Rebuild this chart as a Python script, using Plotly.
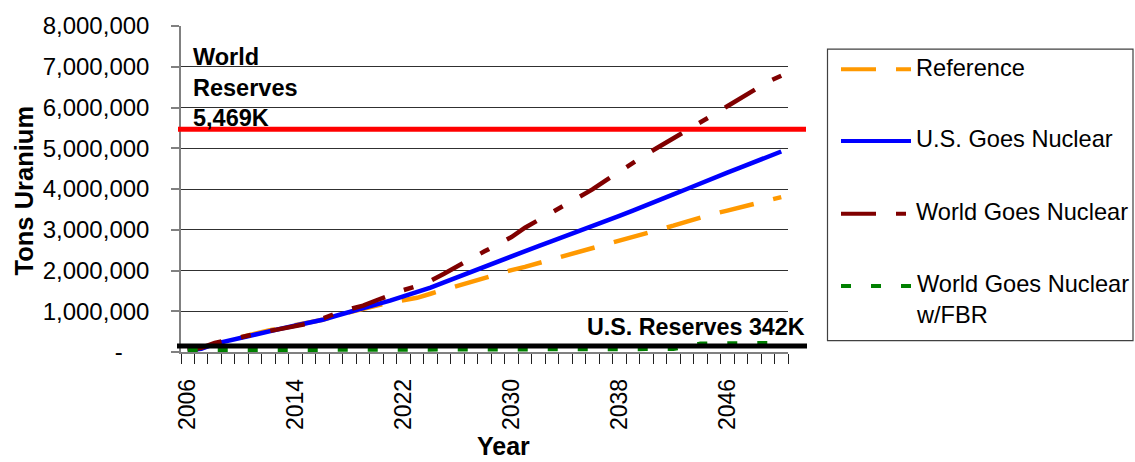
import plotly.graph_objects as go

# ---------------- data ----------------
years = list(range(2006, 2051))

reference = [40000, 90000, 200000, 290000, 370000, 450000, 530000, 600000, 660000, 720000,
             790000, 890000, 980000, 1060000, 1140000, 1210000, 1260000, 1330000, 1430000, 1530000,
             1620000, 1710000, 1810000, 1910000, 2010000, 2090000, 2180000, 2270000, 2370000, 2470000,
             2560000, 2650000, 2730000, 2810000, 2900000, 3000000, 3100000, 3200000, 3300000, 3390000,
             3470000, 3550000, 3630000, 3710000, 3800000]

us_goes_nuclear = [40000, 80000, 200000, 280000, 350000, 430000, 510000, 580000, 650000, 720000,
                   790000, 890000, 990000, 1080000, 1170000, 1260000, 1360000, 1470000, 1580000, 1710000,
                   1840000, 1970000, 2100000, 2230000, 2360000, 2480000, 2600000, 2720000, 2840000, 2960000,
                   3080000, 3210000, 3340000, 3470000, 3610000, 3740000, 3870000, 4000000, 4140000, 4270000,
                   4400000, 4530000, 4660000, 4790000, 4920000]

world_goes_nuclear = [40000, 100000, 220000, 300000, 370000, 440000, 510000, 580000, 630000, 700000,
                      820000, 950000, 1050000, 1140000, 1270000, 1400000, 1520000, 1620000, 1750000, 1920000,
                      2090000, 2290000, 2470000, 2640000, 2820000, 3050000, 3240000, 3430000, 3610000, 3790000,
                      3990000, 4210000, 4430000, 4650000, 4850000, 5050000, 5240000, 5420000, 5620000, 5830000,
                      6030000, 6240000, 6440000, 6630000, 6780000]

world_goes_nuclear_fbr = [50000, 50000, 52000, 52000, 53000, 54000, 55000, 55000, 56000, 57000,
                          58000, 58000, 59000, 60000, 60000, 61000, 62000, 62000, 63000, 64000,
                          65000, 65000, 66000, 67000, 68000, 69000, 70000, 70000, 71000, 72000,
                          73000, 74000, 75000, 76000, 77000, 78000, 80000, 140000, 200000, 205000,
                          208000, 211000, 214000, 217000, 220000]

series_names = ["Reference", "U.S. Goes Nuclear", "World Goes Nuclear", "World Goes Nuclear<br>w/FBR"]

world_reserves_level = 5469000
us_reserves_level = 145000
world_reserves_label = "World<br>Reserves<br>5,469K"
us_reserves_label = "U.S. Reserves 342K"

y_tick_values = [0, 1000000, 2000000, 3000000, 4000000, 5000000, 6000000, 7000000, 8000000]
y_tick_labels = ["-\u00a0\u00a0\u00a0\u00a0", "1,000,000", "2,000,000", "3,000,000", "4,000,000",
                 "5,000,000", "6,000,000", "7,000,000", "8,000,000"]
x_tick_years = [2006, 2014, 2022, 2030, 2038, 2046]

x_title = "Year"
y_title = "Tons Uranium"

# ---------------- styles ----------------
FONT = "Arial, 'Liberation Sans', sans-serif"
colors = ["#FF9900", "#0000FF", "#800000", "#008000"]
dashes = ["35px,20px", "solid", "35px,20px,10px,20px", "10px,20px"]

W, H = 1135, 462
L, R, T, B = 181, 788, 21, 352


def px(x):
    return (x - L) / (R - L)


def py(y):
    return (B - y) / (B - T)


fig = go.Figure()
series = [reference, us_goes_nuclear, world_goes_nuclear, world_goes_nuclear_fbr]
for name, vals, c, d in zip(series_names, series, colors, dashes):
    fig.add_trace(go.Scatter(x=years, y=vals, mode="lines", name=name.replace("<br>", " "),
                             line=dict(color=c, width=4.5, dash=d), showlegend=False))

# reserve lines
fig.add_shape(type="line", xref="paper", yref="y", x0=px(178), x1=px(806),
              y0=world_reserves_level, y1=world_reserves_level,
              line=dict(color="#FF0000", width=5), layer="above")
fig.add_shape(type="line", xref="paper", yref="y", x0=px(177), x1=px(807),
              y0=us_reserves_level, y1=us_reserves_level,
              line=dict(color="#000000", width=5), layer="above")

annotations = []
annotations.append(dict(text=f"<b>{world_reserves_label}</b>", xref="paper", yref="paper",
                        x=px(191), y=py(83), xanchor="left", yanchor="middle", align="left",
                        showarrow=False, font=dict(family=FONT, size=23.5, color="black")))
annotations.append(dict(text=f"<b>{us_reserves_label}</b>", xref="paper", yref="paper",
                        x=px(807), y=py(327), xanchor="right", yanchor="middle", align="right",
                        showarrow=False, font=dict(family=FONT, size=23.3, color="black")))
annotations.append(dict(text=f"<b>{y_title}</b>", xref="paper", yref="paper",
                        x=px(24), y=py(188), xanchor="center", yanchor="middle", textangle=-90,
                        showarrow=False, font=dict(family=FONT, size=25.5, color="black")))
annotations.append(dict(text=f"<b>{x_title}</b>", xref="paper", yref="paper",
                        x=px(503), y=py(447), xanchor="center", yanchor="middle",
                        showarrow=False, font=dict(family=FONT, size=25, color="black")))

# legend (drawn manually)
fig.add_shape(type="rect", xref="paper", yref="paper", x0=px(827.5), x1=px(1133), y0=py(44.5), y1=py(340.5),
              line=dict(color="#404040", width=1.2), fillcolor="white", layer="above")
legend_y = [65, 137.7, 211.7, 285]
for name, c, d, ly in zip(series_names, colors, dashes, legend_y):
    fig.add_shape(type="line", xref="paper", yref="paper", x0=px(841), x1=px(911), y0=py(ly), y1=py(ly),
                  line=dict(color=c, width=4, dash=d), layer="above")
    annotations.append(dict(text=name, xref="paper", yref="paper", x=px(914), y=py(ly - 17),
                            xanchor="left", yanchor="top", align="left", showarrow=False,
                            font=dict(family=FONT, size=23.6, color="black")))

fig.update_layout(
    width=W, height=H,
    margin=dict(l=L, r=W - R, t=T, b=H - B, pad=0),
    paper_bgcolor="white", plot_bgcolor="white",
    font=dict(family=FONT, size=23, color="black"),
    annotations=annotations,
    showlegend=False,
)
fig.update_xaxes(
    type="linear", range=[2005.5, 2050.5],
    tickmode="array", tickvals=x_tick_years, ticktext=[str(v) for v in x_tick_years],
    tickangle=-90, ticks="outside", ticklen=0, tickfont=dict(family=FONT, size=23, color="black"),
    ticklabelstandoff=16,
    showgrid=False, zeroline=False,
    showline=True, linecolor="#808080", linewidth=1.5,
    minor=dict(ticks="outside", ticklen=10, tick0=2005.5, dtick=1, tickcolor="#202020", tickwidth=1,
               showgrid=False),
)
fig.update_yaxes(
    range=[0, 8000000], tickmode="array", tickvals=y_tick_values, ticktext=y_tick_labels,
    ticks="outside", ticklen=8, tickcolor="#808080", tickwidth=1.5,
    tickfont=dict(family=FONT, size=24, color="black"),
    ticklabelstandoff=17,
    showgrid=True, gridcolor="#303030", gridwidth=1,
    zeroline=False, showline=True, linecolor="#808080", linewidth=1.5,
)

fig.write_html("out.html", config={"displayModeBar": False},
               post_script="document.body.style.margin='0px';document.body.style.overflow='hidden';")
